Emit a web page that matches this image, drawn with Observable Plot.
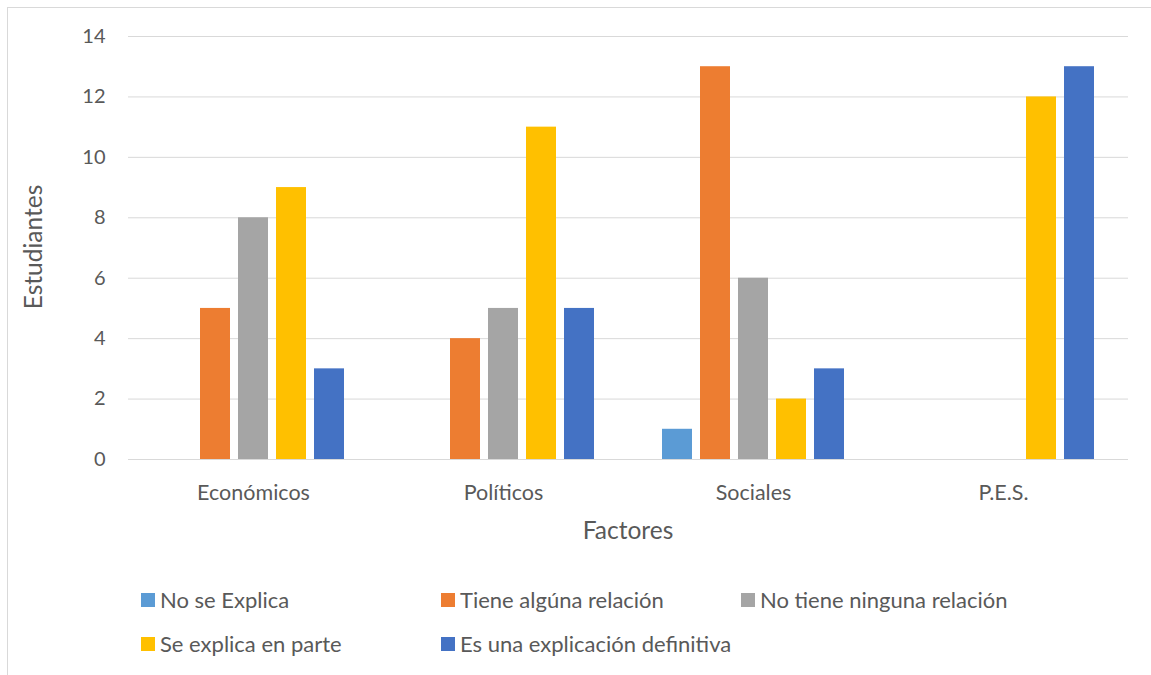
<!DOCTYPE html>
<html>
<head>
<meta charset="utf-8">
<script src="https://cdn.jsdelivr.net/npm/d3@7"></script>
<script src="https://cdn.jsdelivr.net/npm/@observablehq/plot@0.6"></script>
<style>
  html, body { margin: 0; padding: 0; background: #fff; overflow: hidden; }
  body { width: 1151px; height: 675px; position: relative; font-family: Lato, "Open Sans", sans-serif; color: #595959; }
  #frame { position: absolute; left: 7px; top: 7px; width: 2000px; height: 2000px; border-left: 1px solid #d9d9d9; border-top: 1px solid #d9d9d9; }
  #chart { position: absolute; left: 0; top: 0; }
  #chart g[aria-label^="fx-axis"] text { font-size: 21.5px; }
  .title { position: absolute; font-size: 24.5px; white-space: nowrap; line-height: 1; }
  #ytitle { left: 33px; top: 247px; transform: translate(-50%, -50%) rotate(-90deg); }
  #xtitle { left: 628px; top: 530px; transform: translate(-50%, -50%); }
  .leg { position: absolute; display: flex; align-items: center; font-size: 22px; white-space: nowrap; line-height: 1; transform: translateY(-50%); }
  .leg .sw { width: 14px; height: 14px; margin-right: 5px; flex: none; }
</style>
</head>
<body>
<div id="frame"></div>
<div id="chart"></div>
<div class="title" id="ytitle">Estudiantes</div>
<div class="title" id="xtitle">Factores</div>
<div id="legend"></div>
<script>
const categories = ["Económicos", "Políticos", "Sociales", "P.E.S."];
const series = ["No se Explica", "Tiene algúna relación", "No tiene ninguna relación", "Se explica en parte", "Es una explicación definitiva"];
const colors = ["#5B9BD5", "#ED7D31", "#A5A5A5", "#FFC000", "#4472C4"];
const noSeExplica = [0, 0, 1, 0];
const tieneAlgunaRelacion = [5, 4, 13, 0];
const noTieneNingunaRelacion = [8, 5, 6, 0];
const seExplicaEnParte = [9, 11, 2, 12];
const esUnaExplicacionDefinitiva = [3, 5, 3, 13];
const yTicks = [0, 2, 4, 6, 8, 10, 12, 14];

const seriesValues = [noSeExplica, tieneAlgunaRelacion, noTieneNingunaRelacion, seExplicaEnParte, esUnaExplicacionDefinitiva];
const data = [];
categories.forEach((c, i) => {
  series.forEach((s, j) => {
    data.push({cat: c, series: s, value: seriesValues[j][i]});
  });
});

const chart = Plot.plot({
  width: 1151,
  height: 560,
  marginLeft: 127,
  marginRight: 22,
  marginTop: 36,
  marginBottom: 101,
  style: {fontFamily: "Lato, 'Open Sans', sans-serif", fontSize: "20px", color: "#595959", background: "transparent", overflow: "visible"},
  facet: {data: data, x: "cat"},
  fx: {domain: categories, padding: 0, label: null, tickSize: 0, tickPadding: 25},
  x: {domain: series, axis: null, paddingInner: 0.22, paddingOuter: 0.863},
  y: {domain: [0, 14], ticks: yTicks, tickSize: 0, tickPadding: 23, label: null},
  color: {domain: series, range: colors},
  marks: [
    Plot.ruleY(yTicks, {stroke: "#d9d9d9", strokeWidth: 1}),
    Plot.barY(data, {x: "series", y: "value", fill: "series"})
  ]
});
document.getElementById("chart").appendChild(chart);

const legend = document.getElementById("legend");
const legPos = [[141, 600], [441, 600], [741, 600], [141, 644], [441, 644]];
series.forEach((s, i) => {
  const d = document.createElement("div");
  d.className = "leg";
  d.style.left = legPos[i][0] + "px";
  d.style.top = legPos[i][1] + "px";
  const sw = document.createElement("span");
  sw.className = "sw";
  sw.style.background = colors[i];
  const t = document.createElement("span");
  t.textContent = s;
  d.appendChild(sw);
  d.appendChild(t);
  legend.appendChild(d);
});
</script>
</body>
</html>
